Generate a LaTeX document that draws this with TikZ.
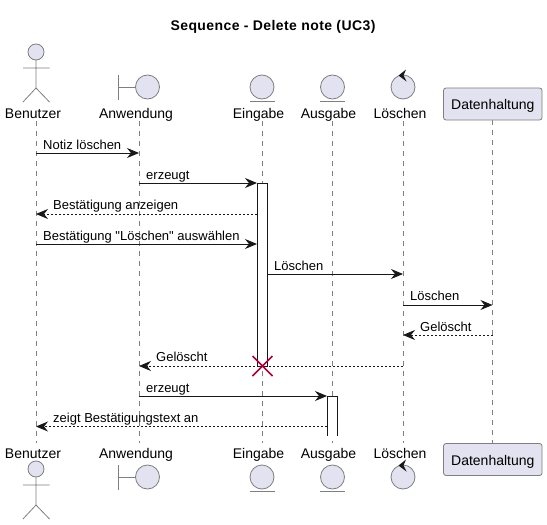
\documentclass[tikz,border=0pt]{standalone}
\usepackage{fontspec}
\setmainfont{Liberation Sans}
\newfontfamily\plainquote{Liberation Sans}
\usetikzlibrary{arrows.meta,calc}
\definecolor{partfill}{HTML}{E2E2F0}
\definecolor{partline}{HTML}{7F7F7F}
\definecolor{inkdark}{HTML}{181818}
\definecolor{crossred}{HTML}{A80036}
\tikzset{
  x=1pt,y=-1pt,
  lifeline/.style={draw=partline,line width=.8pt,dash pattern=on 5pt off 5pt},
  msgtip/.style={-{Stealth[length=12pt,width=10pt,inset=4pt,color=inkdark]}},
  syncmsg/.style={msgtip,draw=inkdark,line width=.9pt},
  retmsg/.style={msgtip,draw=inkdark,line width=.8pt,dash pattern=on 2pt off 2pt},
  msglabel/.style={inner sep=0pt,anchor=base west,font=\fontsize{13}{15}\selectfont,text=black},
  partlabel/.style={inner sep=0pt,anchor=base,font=\fontsize{14}{16}\selectfont,text=black},
  icon/.style={draw=partline,line width=.8pt,fill=partfill},
  iconline/.style={draw=partline,line width=.8pt},
  partbox/.style={draw=partline,line width=.8pt,fill=partfill,rounded corners=2.5pt,minimum width=98.5pt,minimum height=32pt,inner sep=0pt,text height=11pt,text depth=-1pt,font=\fontsize{14}{16}\selectfont,text=black},
  activation/.style={draw=inkdark,line width=.9pt,fill=white},
  crossmark/.style={draw=crossred,line width=1.5pt},
}
\begin{document}
\begin{tikzpicture}
\useasboundingbox (0,0) rectangle (547,525);
\fill[white] (0,0) rectangle (547,525);

\node[inner sep=0pt,anchor=base,font=\bfseries\fontsize{14}{16}\selectfont\addfontfeature{LetterSpace=3},text=black] (title) at (273,30) {Sequence - Delete note (UC3)};

% lifeline ends
\coordinate (aT) at (36,121);   \coordinate (aB) at (36,443);
\coordinate (bT) at (139,121);  \coordinate (bB) at (139,443);
\coordinate (cT) at (262,121);  \coordinate (cB) at (262,443);
\coordinate (dT) at (332.5,121);\coordinate (dB) at (332.5,443);
\coordinate (eT) at (403,121);  \coordinate (eB) at (403,443);
\coordinate (fT) at (492.5,120);\coordinate (fB) at (492.5,443.5);
\foreach \n in {a,b,c,d,e,f}{\draw[lifeline] (\n T) -- (\n B);}

% top labels
\node[partlabel] (aLabT) at (33,118) {Benutzer};
\node[partlabel] (bLabT) at (136,118) {Anwendung};
\node[partlabel] (cLabT) at (258.5,118) {Eingabe};
\node[partlabel] (dLabT) at (328.5,118) {Ausgabe};
\node[partlabel] (eLabT) at (400,118) {Löschen};
\node[partbox] (fTop) at (492.8,104) {Datenhaltung};
% bottom labels
\node[partlabel] (aLabB) at (33,458) {Benutzer};
\node[partlabel] (bLabB) at (136,458) {Anwendung};
\node[partlabel] (cLabB) at (258.5,458) {Eingabe};
\node[partlabel] (dLabB) at (328.5,458) {Ausgabe};
\node[partlabel] (eLabB) at (400,458) {Löschen};
\node[partbox] (fBot) at (492.8,459.5) {Datenhaltung};

% actor icons
\foreach \yo in {0,417}{
  \draw[icon] (36,52+\yo) circle (8);
  \draw[iconline] (36,60+\yo) -- (36,88+\yo) (23,68+\yo) -- (49.5,68+\yo)
    (23,102+\yo) -- (36,88+\yo) -- (49.5,102+\yo);
}
% boundary, entity, control icons
\foreach \yo in {0,390}{
  \draw[iconline] (118.7,75+\yo) -- (118.7,99.5+\yo) (118.7,87+\yo) -- (135.5,87+\yo);
  \draw[icon] (147.5,87+\yo) circle (12);
  \draw[icon] (262,87+\yo) circle (12);
  \draw[iconline] (250,101+\yo) -- (274.5,101+\yo);
  \draw[icon] (332.5,87+\yo) circle (12);
  \draw[iconline] (320,101+\yo) -- (345,101+\yo);
  \draw[icon] (403,87+\yo) circle (12);
  \fill[inkdark] (398.5,75.5+\yo) -- (406,69.5+\yo) -- (403.5,75.5+\yo) -- (406.5,81.5+\yo) -- cycle;
}

% activations
\draw[activation] (257,183) rectangle (267.5,366);
\fill[white] (327,396) rectangle (337.5,436);
\draw[inkdark,line width=.9pt] (327,436) -- (327,396) -- (337.5,396) -- (337.5,436);
\coordinate (act1W) at (257,183);
\coordinate (act1E) at (267.5,183);
\coordinate (act2W) at (327,396);

% message rows
\coordinate (m1) at (0,153);
\coordinate (m2) at (0,183);
\coordinate (m3) at (0,214);
\coordinate (m4) at (0,244);
\coordinate (m5) at (0,274);
\coordinate (m6) at (0,305);
\coordinate (m7) at (0,335);
\coordinate (m8) at (0,366);
\coordinate (m9) at (0,396);
\coordinate (m10) at (0,426.5);

\draw[syncmsg] (aT |- m1) -- (bT |- m1);
\node[msglabel] (l1) at (43,149) {Notiz löschen};
\draw[syncmsg] (bT |- m2) -- (act1W |- m2);
\node[msglabel] (l2) at (146,179) {erzeugt};
\draw[retmsg] (act1W |- m3) -- (aT |- m3);
\node[msglabel] (l3) at (53,209) {Bestätigung anzeigen};
\draw[syncmsg] (aT |- m4) -- (act1W |- m4);
\node[msglabel] (l4) at (43,240) {Bestätigung {\plainquote"}Löschen{\plainquote"} auswählen};
\draw[syncmsg] (act1E |- m5) -- (eT |- m5);
\node[msglabel] (l5) at (274,270) {Löschen};
\draw[syncmsg] (eT |- m6) -- (fT |- m6);
\node[msglabel] (l6) at (410,300) {Löschen};
\draw[retmsg] (fT |- m7) -- (eT |- m7);
\node[msglabel] (l7) at (420,331) {Gelöscht};
\draw[retmsg] (eT |- m8) -- (bT |- m8);
\node[msglabel] (l8) at (156,361) {Gelöscht};
\draw[syncmsg] (bT |- m9) -- (act2W |- m9);
\node[msglabel] (l9) at (146,392) {erzeugt};
\draw[retmsg] (act2W |- m10) -- (aT |- m10);
\node[msglabel] (l10) at (53,422) {zeigt Bestätigungstext an};

% destroy mark
\coordinate (destroy) at (262.5,366);
\draw[crossmark] ($(destroy)+(-10,-10)$) -- ($(destroy)+(10,10)$) ($(destroy)+(-10,10)$) -- ($(destroy)+(10,-10)$);
\end{tikzpicture}
\end{document}
